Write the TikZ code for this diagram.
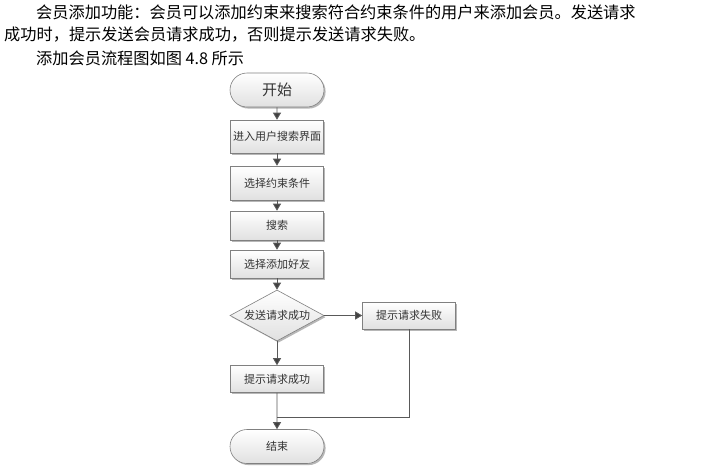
\documentclass[tikz,border=0pt]{standalone}
\usepackage{fontspec}
\newfontfamily\cjk{Noto Sans CJK SC}
\usetikzlibrary{shapes.misc,shapes.geometric,shadows,arrows.meta}
\tikzset{
  base/.style={draw=black!50, line width=0.6pt, top color=white, bottom color=black!12,
    drop shadow={shadow xshift=1.6pt, shadow yshift=-1.6pt, fill=black!35, opacity=0.8},
    font=\cjk\fontsize{11}{12}\selectfont, text=black!80, inner sep=0pt},
  procbox/.style={base, rectangle, minimum width=93pt},
  term/.style={base, rounded rectangle, minimum width=94pt, minimum height=34pt},
  decide/.style={base, diamond, aspect=1.84, minimum width=94pt, minimum height=51pt},
  conn/.style={draw=black!65, line width=0.9pt, -{Triangle[width=8pt,length=7pt,fill=black!75]}},
  para/.style={anchor=west, font=\cjk\fontsize{16.2}{18}\selectfont, inner sep=0pt, text=black}
}
\begin{document}
\begin{tikzpicture}[x=1pt,y=-1pt]
\useasboundingbox (0,0) rectangle (706,469);
\fill[white] (0,0) rectangle (706,469);
\node[para] (p1) at (36,12) {会员添加功能：会员可以添加约束来搜索符合约束条件的用户来添加会员。发送请求};
\node[para] (p2) at (4,35) {成功时，提示发送会员请求成功，否则提示发送请求失败。};
\node[para] (p3) at (36,58) {添加会员流程图如图 4.8 所示};

\node[term, font=\cjk\fontsize{15}{16}\selectfont] (start) at (277,90) {开始};
\node[procbox, minimum height=33pt] (n1) at (277,136.5) {进入用户搜索界面};
\node[procbox, minimum height=34pt] (n2) at (277,183) {选择约束条件};
\node[procbox, minimum height=29pt] (n3) at (277,225.5) {搜索};
\node[procbox, minimum height=28pt] (n4) at (277,264) {选择添加好友};
\node[decide] (dia) at (277,315.5) {发送请求成功};
\node[procbox, minimum height=27pt] (fail) at (409,315.5) {提示请求失败};
\node[procbox, minimum height=27pt] (succ) at (277,379) {提示请求成功};
\node[term] (end) at (277,446.5) {结束};
\coordinate (join) at (277,417);

\draw[conn] (start) -- (n1);
\draw[conn] (n1) -- (n2);
\draw[conn] (n2) -- (n3);
\draw[conn] (n3) -- (n4);
\draw[conn] (n4) -- (dia);
\draw[conn] (dia) -- (fail);
\draw[conn] (dia) -- (succ);
\draw[conn] (succ) -- (end);
\draw[draw=black!65, line width=0.9pt] (fail.south) |- (join);
\end{tikzpicture}
\end{document}
